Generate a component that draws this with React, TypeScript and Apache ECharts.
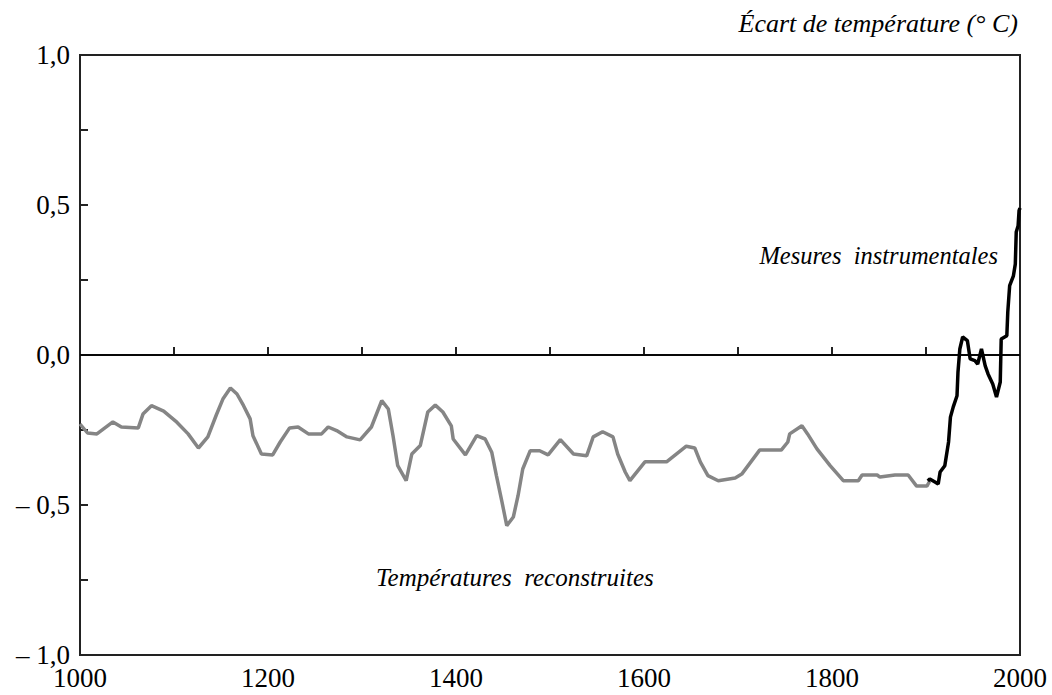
import React, { useEffect, useRef } from "react";
import * as echarts from "echarts";

const reconYears = [1000, 1008, 1018, 1035, 1044, 1062, 1067, 1076, 1089, 1103, 1115, 1126, 1136, 1145, 1152, 1160, 1167, 1174, 1181, 1184, 1193, 1205, 1213, 1223, 1232, 1243, 1257, 1264, 1273, 1284, 1298, 1310, 1321, 1328, 1333, 1338, 1347, 1353, 1362, 1370, 1378, 1386, 1395, 1397, 1410, 1422, 1431, 1438, 1443, 1449, 1454, 1461, 1466, 1471, 1479, 1489, 1498, 1511, 1525, 1539, 1546, 1556, 1567, 1572, 1580, 1585, 1601, 1624, 1645, 1654, 1660, 1668, 1679, 1697, 1704, 1723, 1746, 1753, 1755, 1768, 1774, 1784, 1798, 1812, 1828, 1832, 1848, 1851, 1867, 1881, 1890, 1901, 1904];
const reconValues = [-0.23, -0.26, -0.263, -0.223, -0.24, -0.243, -0.197, -0.169, -0.187, -0.224, -0.263, -0.31, -0.273, -0.2, -0.147, -0.11, -0.13, -0.169, -0.213, -0.269, -0.33, -0.333, -0.29, -0.243, -0.24, -0.263, -0.263, -0.24, -0.252, -0.273, -0.283, -0.24, -0.152, -0.18, -0.269, -0.369, -0.419, -0.33, -0.302, -0.19, -0.167, -0.19, -0.236, -0.28, -0.333, -0.269, -0.28, -0.324, -0.402, -0.491, -0.569, -0.54, -0.469, -0.38, -0.319, -0.319, -0.333, -0.282, -0.33, -0.336, -0.273, -0.256, -0.273, -0.33, -0.39, -0.419, -0.356, -0.356, -0.304, -0.31, -0.357, -0.402, -0.419, -0.41, -0.397, -0.317, -0.317, -0.29, -0.263, -0.236, -0.263, -0.313, -0.369, -0.419, -0.419, -0.4, -0.4, -0.407, -0.4, -0.4, -0.437, -0.437, -0.42];

const instrYears = [1902, 1904, 1910, 1913, 1915, 1920, 1924, 1926, 1929, 1933, 1934, 1936, 1939, 1944, 1947, 1952, 1955, 1959, 1963, 1966, 1971, 1975, 1979, 1980, 1986, 1987, 1989, 1993, 1995, 1996, 1998, 1999, 2000];
const instrValues = [-0.42, -0.413, -0.424, -0.43, -0.39, -0.369, -0.29, -0.207, -0.173, -0.136, -0.058, 0.02, 0.06, 0.048, -0.013, -0.019, -0.03, 0.02, -0.036, -0.063, -0.097, -0.14, -0.09, 0.053, 0.064, 0.143, 0.231, 0.264, 0.303, 0.41, 0.431, 0.481, 0.49];

const yTickLabels: Record<string, string> = { "1": "1,0", "0.5": "0,5", "0": "0,0", "-0.5": "– 0,5", "-1": "– 1,0" };
const xTickLabels = ["1000", "1200", "1400", "1600", "1800", "2000"];

const titleText = "Écart de température (° C)";
const instrLabel = "Mesures  instrumentales";
const reconLabel = "Températures  reconstruites";

const FONT = "Liberation Serif";

export default function App() {
  const ref = useRef<HTMLDivElement>(null);
  useEffect(() => {
    if (!ref.current) return;
    const chart = echarts.init(ref.current, undefined, { renderer: "svg" });
    chart.setOption({
      animation: false,
      backgroundColor: "#ffffff",
      textStyle: { fontFamily: FONT },
      grid: {
        left: 80, right: 32, top: 55, bottom: 40,
        outerBoundsMode: "none",
        show: true, borderColor: "#222", borderWidth: 2, backgroundColor: "transparent",
      },
      xAxis: {
        type: "value", min: 1000, max: 2000, interval: 100,
        axisLine: { lineStyle: { color: "#222", width: 2 } },
        axisTick: { inside: true, length: 8, lineStyle: { color: "#222", width: 2 } },
        splitLine: { show: false },
        axisLabel: {
          color: "#000", fontSize: 27, fontFamily: FONT, margin: 9,
          formatter: (v: number) => (xTickLabels.includes(String(v)) ? String(v) : ""),
        },
      },
      yAxis: {
        type: "value", min: -1, max: 1, interval: 0.25,
        axisLine: { lineStyle: { color: "#222", width: 2 } },
        axisTick: { inside: true, length: 8, lineStyle: { color: "#222", width: 2 } },
        splitLine: { show: false },
        axisLabel: {
          color: "#000", fontSize: 27, fontFamily: FONT, margin: 10,
          formatter: (v: number) => yTickLabels[String(Math.round(v * 100) / 100)] ?? "",
        },
      },
      series: [
        {
          type: "line",
          data: reconYears.map((y, i) => [y, reconValues[i]]),
          showSymbol: false,
          lineStyle: { color: "#858585", width: 3.5 },
          z: 3,
          markLine: {
            silent: true, symbol: "none", label: { show: false },
            lineStyle: { color: "#000", width: 1.5, type: "solid" },
            data: [{ yAxis: 0 }],
          },
        },
        {
          type: "line",
          data: instrYears.map((y, i) => [y, instrValues[i]]),
          showSymbol: false,
          lineStyle: { color: "#000", width: 3.5 },
          z: 4,
        },
      ],
      graphic: [
        {
          type: "text", x: 1018, y: 23,
          style: { text: titleText, fill: "#000", fontFamily: FONT, fontStyle: "italic", fontSize: 26, textAlign: "right", textVerticalAlign: "middle" },
        },
        {
          type: "text", x: 998, y: 255,
          style: { text: instrLabel, fill: "#000", fontFamily: FONT, fontStyle: "italic", fontSize: 24.5, textAlign: "right", textVerticalAlign: "middle" },
        },
        {
          type: "text", x: 376, y: 577,
          style: { text: reconLabel, fill: "#000", fontFamily: FONT, fontStyle: "italic", fontSize: 25, textAlign: "left", textVerticalAlign: "middle" },
        },
      ],
    });
    return () => chart.dispose();
  }, []);
  return <div ref={ref} style={{ position: "fixed", left: 0, top: 0, width: 1052, height: 695 }} />;
}
